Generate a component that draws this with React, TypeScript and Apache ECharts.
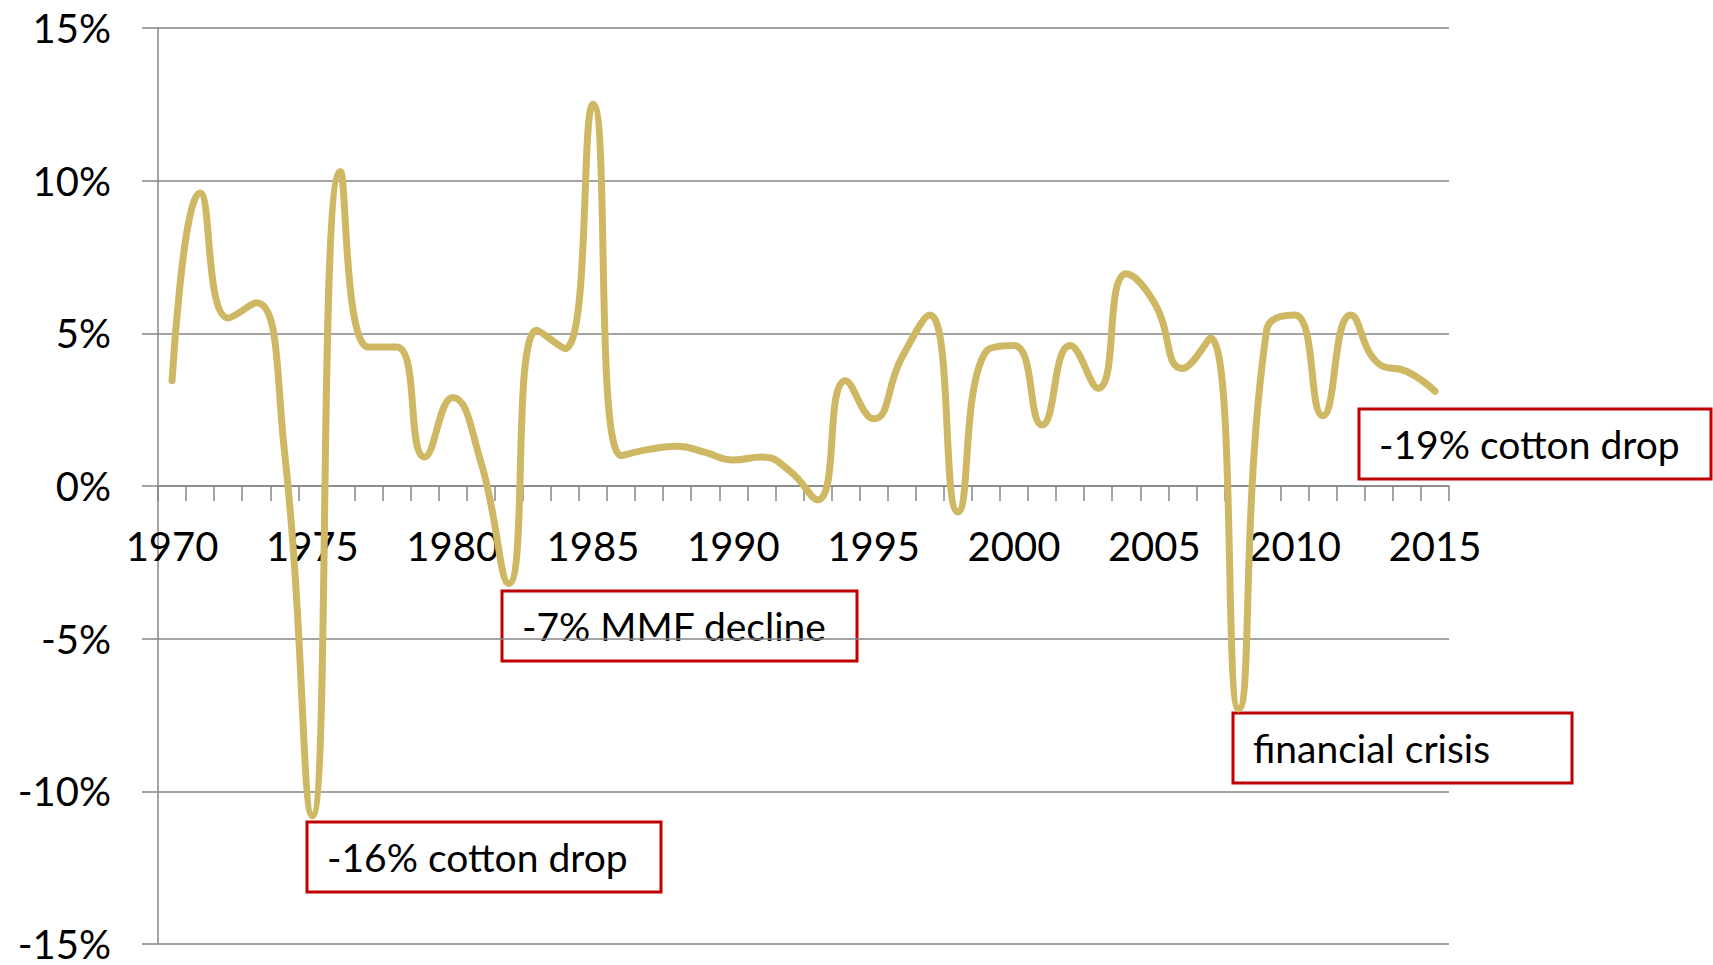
import React, { useEffect, useRef } from "react";
import * as echarts from "echarts";

const years: string[] = [
  "1970", "1971", "1972", "1973", "1974", "1975", "1976", "1977", "1978", "1979",
  "1980", "1981", "1982", "1983", "1984", "1985", "1986", "1987", "1988", "1989",
  "1990", "1991", "1992", "1993", "1994", "1995", "1996", "1997", "1998", "1999",
  "2000", "2001", "2002", "2003", "2004", "2005", "2006", "2007", "2008", "2009",
  "2010", "2011", "2012", "2013", "2014", "2015",
];

const growthPct: number[] = [
  3.45, 9.6, 5.5, 6.0, 1.2, -10.8, 10.3, 4.55, 4.55, 0.95,
  2.9, 0.8, -3.2, 5.1, 4.5, 12.5, 1.0, 1.2, 1.3, 1.1,
  0.85, 0.95, 0.5, -0.45, 3.45, 2.2, 4.2, 5.6, -0.85, 4.4,
  4.6, 2.0, 4.6, 3.2, 6.95, 6.0, 3.85, 4.85, -7.3, 5.1,
  5.6, 2.3, 5.6, 4.0, 3.75, 3.1,
];

const yMin = -15;
const yMax = 15;
const yStep = 5;

const annotationTexts: string[] = [
  "-16% cotton drop",
  "-7% MMF decline",
  "financial crisis",
  "-19% cotton drop",
];

// layout of annotation boxes (pixels)
const boxLayout = [
  { x: 307, y: 822, w: 354 },
  { x: 502, y: 591, w: 355 },
  { x: 1233, y: 713, w: 339 },
  { x: 1359, y: 409, w: 352 },
];

const FONT = "Lato, 'Open Sans', sans-serif";
const GRID_COLOR = "#868686";

const GRID_TOP = 28;
const GRID_BOTTOM = 21;
const CHART_H = 965;

export default function App() {
  const ref = useRef<HTMLDivElement>(null);

  useEffect(() => {
    if (!ref.current) return;
    const chart = echarts.init(ref.current, null, { renderer: "svg" });

    const plotH = CHART_H - GRID_TOP - GRID_BOTTOM;
    // distance from the grid bottom to the zero line, used to place the category axis at 0
    const zeroOffset = (plotH * (0 - yMin)) / (yMax - yMin);

    const graphics = annotationTexts.map((t, i) => {
      const b = boxLayout[i];
      return {
        type: "group",
        x: b.x,
        y: b.y,
        children: [
          {
            type: "rect",
            shape: { x: 0, y: 0, width: b.w, height: 70 },
            style: { fill: "none", stroke: "#C00000", lineWidth: 3 },
          },
          {
            type: "text",
            x: 20,
            y: 35,
            style: {
              text: t,
              fill: "#000",
              font: `39px ${FONT}`,
              textAlign: "left",
              textVerticalAlign: "middle",
              verticalAlign: "middle",
            },
          },
        ],
      };
    });

    chart.setOption({
      animation: false,
      backgroundColor: "#fff",
      grid: {
        left: 158,
        right: 264,
        top: GRID_TOP,
        bottom: GRID_BOTTOM,
        containLabel: false,
        outerBoundsMode: "none",
      },
      xAxis: {
        type: "category",
        data: years,
        boundaryGap: true,
        position: "bottom",
        offset: -zeroOffset,
        axisLine: { onZero: false, lineStyle: { color: GRID_COLOR, width: 1.5 } },
        axisTick: {
          show: true,
          interval: 0,
          length: 15,
          inside: false,
          lineStyle: { color: GRID_COLOR, width: 1.5 },
        },
        axisLabel: {
          interval: 4,
          margin: 60,
          fontSize: 40,
          fontFamily: FONT,
          color: "#000",
          verticalAlign: "middle",
          lineHeight: 40,
        },
        splitLine: { show: false },
      },
      yAxis: {
        type: "value",
        min: yMin,
        max: yMax,
        interval: yStep,
        axisLine: { show: true, onZero: false, lineStyle: { color: GRID_COLOR, width: 1.5 } },
        axisTick: {
          show: true,
          length: 16,
          lineStyle: { color: GRID_COLOR, width: 1.5 },
        },
        axisLabel: {
          margin: 47,
          fontSize: 40,
          lineHeight: 34,
          fontFamily: FONT,
          color: "#000",
          formatter: (v: number) => `${v}%`,
        },
        splitLine: { show: true, lineStyle: { color: GRID_COLOR, width: 1.5 } },
      },
      series: [
        {
          type: "line",
          data: growthPct,
          smooth: 0.5,
          symbol: "none",
          lineStyle: { color: "#CEB863", width: 7, cap: "round", join: "round" },
          z: 3,
        },
      ],
      graphic: graphics,
    });

    return () => chart.dispose();
  }, []);

  return (
    <div
      ref={ref}
      style={{ position: "fixed", left: 0, top: 0, width: 1713, height: 965 }}
    />
  );
}
